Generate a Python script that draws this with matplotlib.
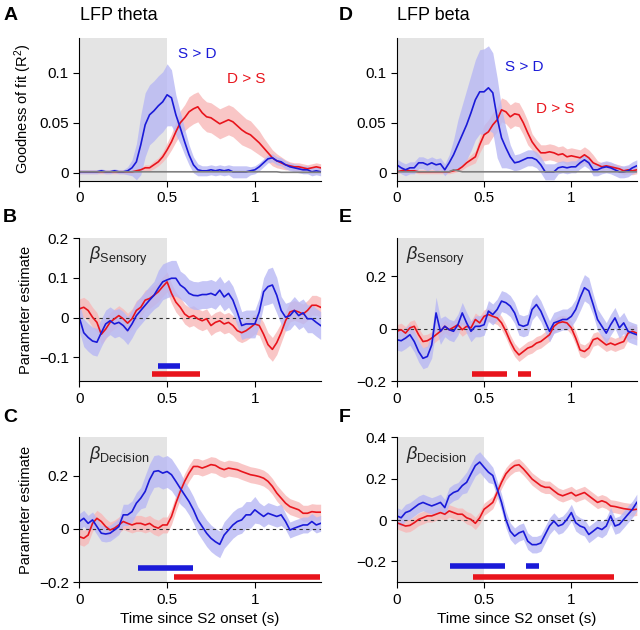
import numpy as np
import matplotlib
matplotlib.use('Agg')
import matplotlib.pyplot as plt

plt.rcParams['font.family'] = ['Liberation Sans', 'DejaVu Sans']
plt.rcParams['mathtext.fontset'] = 'custom'
plt.rcParams['mathtext.rm'] = 'Liberation Sans'
plt.rcParams['mathtext.it'] = 'Liberation Sans:italic'
plt.rcParams['axes.unicode_minus'] = True

BLUE = '#1a1ad8'
RED = '#e8141c'
BLUE_BAND = '#b8b8f4'
RED_BAND = '#f8b8b8'
SHADE = '#e4e4e4'

# time since S2 onset, 25 ms steps
t = np.round(np.arange(56) * 0.025, 3)

# A: LFP theta, goodness of fit
a_blue = [0.001, 0.001, 0.001, 0.001, 0.001, 0.002, 0.001, 0.001, 0.002, 0.001, 0.001, 0.002,
          0.005, 0.011, 0.028, 0.048, 0.058, 0.062, 0.067, 0.071, 0.078, 0.075, 0.058, 0.045,
          0.031, 0.018, 0.008, 0.003, 0.002, 0.002, 0.003, 0.002, 0.003, 0.002, 0.003, 0.001,
          0.001, 0.001, 0.001, 0.002, 0.003, 0.006, 0.010, 0.014, 0.015, 0.012, 0.011, 0.008,
          0.006, 0.005, 0.004, 0.003, 0.003, 0.001, 0.002, 0.001]
a_blue_err = ([0.002] * 11 + [0.004, 0.008, 0.018, 0.030, 0.032, 0.030, 0.030, 0.030, 0.030,
              0.031, 0.028, 0.020, 0.016, 0.013, 0.010, 0.008, 0.006] + [0.005] * 7
              + [0.006] * 4 + [0.004] * 17)
a_red = [0.001, 0.001, 0.001, 0.001, 0.001, 0.001, 0.001, 0.001, 0.001, 0.001, 0.001, 0.001,
         0.001, 0.002, 0.003, 0.005, 0.005, 0.008, 0.011, 0.016, 0.023, 0.031, 0.041, 0.050,
         0.055, 0.061, 0.064, 0.066, 0.060, 0.056, 0.055, 0.052, 0.049, 0.051, 0.053, 0.051,
         0.047, 0.043, 0.040, 0.038, 0.034, 0.030, 0.025, 0.020, 0.015, 0.012, 0.010, 0.008,
         0.007, 0.006, 0.006, 0.005, 0.004, 0.005, 0.006, 0.005]
a_red_err = ([0.002] * 15 + [0.003, 0.003, 0.004, 0.004, 0.005, 0.007, 0.008, 0.010, 0.012,
             0.013] + [0.015] * 13 + [0.014, 0.014, 0.013, 0.012, 0.010, 0.009, 0.008, 0.007,
             0.006, 0.005] + [0.004] * 8)
a_grey = [0.001] * 46 + [0.0005] * 10

# D: LFP beta, goodness of fit
d_blue = [0.008, 0.005, 0.003, 0.005, 0.005, 0.010, 0.010, 0.008, 0.010, 0.008, 0.009, 0.003,
          0.010, 0.018, 0.028, 0.038, 0.048, 0.060, 0.073, 0.081, 0.081, 0.085, 0.080, 0.055,
          0.035, 0.025, 0.016, 0.010, 0.011, 0.013, 0.015, 0.015, 0.013, 0.008, 0.001, 0.001,
          0.001, 0.005, 0.006, 0.005, 0.006, 0.006, 0.010, 0.013, 0.010, 0.003, 0.003, 0.005,
          0.006, 0.005, 0.003, 0.001, 0.001, 0.002, 0.005, 0.007]
d_blue_err = ([0.006] * 12 + [0.008, 0.015, 0.025, 0.030, 0.035, 0.038, 0.040, 0.042, 0.043,
              0.042, 0.040, 0.040, 0.030, 0.020, 0.012] + [0.008] * 10 + [0.006] * 19)
d_red = [0.001, 0.002, 0.003, 0.002, 0.002, 0.001, 0.001, 0.001, 0.001, 0.001, 0.001, 0.001,
         0.001, 0.002, 0.003, 0.006, 0.010, 0.013, 0.016, 0.028, 0.038, 0.041, 0.048, 0.053,
         0.063, 0.061, 0.056, 0.059, 0.058, 0.050, 0.040, 0.031, 0.025, 0.020, 0.020, 0.021,
         0.020, 0.018, 0.019, 0.016, 0.017, 0.016, 0.015, 0.018, 0.015, 0.010, 0.008, 0.006,
         0.007, 0.006, 0.005, 0.004, 0.002, 0.003, 0.002, 0.003]
d_red_err = ([0.002] * 15 + [0.003, 0.004, 0.005, 0.006, 0.008, 0.010] + [0.012] * 10
             + [0.008] * 15 + [0.004] * 10)
d_grey = [0.001] * 13 + [0.003, 0.002] + [0.001] * 41

# B: theta, beta sensory
b_blue = [0.000, -0.038, -0.050, -0.059, -0.062, -0.038, -0.016, -0.008, -0.016, -0.012, -0.020, -0.033,
          -0.016, 0.005, 0.018, 0.031, 0.044, 0.056, 0.074, 0.090, 0.095, 0.099, 0.099, 0.082,
          0.074, 0.061, 0.056, 0.055, 0.058, 0.058, 0.061, 0.056, 0.069, 0.052, 0.061, 0.044,
          0.014, -0.020, -0.016, -0.016, -0.016, 0.014, 0.065, 0.078, 0.082, 0.056, 0.018, 0.001,
          0.005, 0.018, 0.005, 0.012, -0.003, -0.003, -0.012, -0.020]
b_blue_err = [0.035] * 18 + [0.045] * 5 + [0.035] * 20 + [0.045] * 3 + [0.035] * 10
b_red = [0.022, 0.026, 0.018, 0.001, -0.012, -0.042, -0.029, -0.012, -0.003, 0.005, -0.003, -0.014,
         -0.003, 0.018, 0.026, 0.044, 0.048, 0.056, 0.065, 0.078, 0.090, 0.061, 0.039, 0.026,
         0.009, 0.001, 0.005, -0.003, -0.008, -0.003, -0.020, -0.012, -0.008, -0.016, -0.012, -0.020,
         -0.033, -0.038, -0.033, -0.025, -0.016, -0.020, -0.042, -0.068, -0.080, -0.063, -0.038, -0.008,
         0.014, 0.018, 0.014, 0.009, 0.018, 0.031, 0.031, 0.026]
b_red_err = [0.025] * 42 + [0.03] * 4 + [0.025] * 10
b_sig_blue = [(0.447, 0.573)]
b_sig_red = [(0.416, 0.687)]

# E: beta, beta sensory
e_blue = [-0.042, -0.046, -0.036, -0.023, -0.049, -0.087, -0.113, -0.106, -0.062, 0.060, -0.010, 0.009,
          -0.004, -0.010, 0.015, 0.060, 0.022, -0.010, 0.009, 0.009, 0.015, 0.067, 0.054, 0.073,
          0.105, 0.099, 0.086, 0.060, 0.015, 0.009, 0.015, 0.073, 0.092, 0.067, 0.028, -0.010,
          0.022, 0.028, 0.035, 0.035, 0.047, 0.073, 0.118, 0.156, 0.144, 0.092, 0.035, 0.009,
          -0.017, 0.015, 0.041, 0.003, 0.022, -0.010, -0.017, -0.023]
e_blue_err = [0.04] * 8 + [0.05, 0.06, 0.05] + [0.04] * 31 + [0.05, 0.05, 0.05] + [0.04] * 11
e_red = [-0.010, -0.004, -0.017, 0.003, 0.009, -0.023, -0.049, -0.046, -0.036, -0.023, -0.010, 0.009,
         -0.004, 0.005, 0.015, -0.004, 0.009, 0.003, 0.035, 0.022, 0.047, 0.054, 0.047, 0.041,
         0.022, -0.010, -0.049, -0.081, -0.100, -0.087, -0.074, -0.068, -0.055, -0.049, -0.036, -0.023,
         0.009, 0.022, 0.026, 0.022, 0.003, -0.036, -0.081, -0.087, -0.074, -0.042, -0.036, -0.049,
         -0.062, -0.055, -0.062, -0.055, -0.049, -0.017, -0.010, -0.017]
e_red_err = [0.025] * 56
e_sig_red = [(0.433, 0.629), (0.696, 0.766)]

# C: theta, beta decision
c_blue = [0.028, 0.040, 0.021, 0.034, 0.009, -0.016, -0.019, -0.016, -0.004, 0.009, 0.053, 0.053,
          0.065, 0.097, 0.116, 0.141, 0.185, 0.216, 0.219, 0.210, 0.216, 0.204, 0.179, 0.153,
          0.128, 0.103, 0.072, 0.034, 0.009, -0.016, -0.035, -0.048, -0.058, -0.023, -0.004, 0.015,
          0.028, 0.034, 0.053, 0.053, 0.072, 0.059, 0.047, 0.059, 0.053, 0.047, 0.053, 0.028,
          -0.004, 0.003, 0.009, 0.015, 0.015, 0.028, 0.015, 0.021]
c_blue_err = [0.03] * 10 + [0.04] * 5 + [0.06] * 9 + [0.05] * 17 + [0.04] * 6 + [0.03] * 9
c_red = [-0.029, -0.035, -0.023, 0.021, 0.040, 0.028, 0.009, -0.004, 0.003, 0.015, 0.028, 0.021,
         0.015, 0.021, 0.021, 0.015, 0.021, 0.009, 0.003, 0.015, 0.015, 0.047, 0.097, 0.141,
         0.179, 0.210, 0.235, 0.235, 0.229, 0.235, 0.242, 0.239, 0.229, 0.223, 0.229, 0.226,
         0.223, 0.216, 0.210, 0.204, 0.201, 0.197, 0.191, 0.179, 0.160, 0.135, 0.116, 0.097,
         0.084, 0.078, 0.072, 0.059, 0.059, 0.065, 0.063, 0.063]
c_red_err = [0.03] * 56
c_sig_blue = [(0.336, 0.647)]
c_sig_red = [(0.538, 1.374)]

# F: beta, beta decision
f_blue = [0.020, 0.011, 0.036, 0.044, 0.060, 0.076, 0.085, 0.076, 0.068, 0.076, 0.085, 0.060,
          0.117, 0.133, 0.141, 0.166, 0.182, 0.223, 0.263, 0.280, 0.255, 0.231, 0.215, 0.150,
          0.085, 0.003, -0.054, -0.078, -0.062, -0.054, -0.102, -0.119, -0.119, -0.111, -0.070, -0.029,
          -0.005, -0.029, -0.021, 0.003, 0.036, -0.013, -0.029, -0.037, -0.070, -0.054, -0.037, -0.046,
          -0.029, 0.020, -0.029, -0.021, 0.003, 0.028, 0.052, 0.085]
f_blue_err = [0.04] * 16 + [0.05] * 6 + [0.04] * 34
f_red = [-0.013, -0.021, -0.029, -0.026, -0.013, 0.003, 0.011, 0.020, 0.020, 0.028, 0.036, 0.028,
         0.044, 0.036, 0.028, 0.028, 0.011, 0.003, -0.016, 0.011, 0.052, 0.068, 0.085, 0.133,
         0.182, 0.223, 0.247, 0.263, 0.267, 0.247, 0.223, 0.198, 0.182, 0.166, 0.158, 0.158,
         0.141, 0.125, 0.117, 0.125, 0.133, 0.117, 0.125, 0.133, 0.117, 0.101, 0.085, 0.093,
         0.085, 0.068, 0.065, 0.060, 0.055, 0.052, 0.049, 0.052]
f_red_err = [0.03] * 56
f_sig_blue = [(0.304, 0.618), (0.738, 0.814)]
f_sig_red = [(0.437, 1.245)]


def draw_pair(ax, blue, blue_err, red, red_err):
    blue = np.array(blue)
    red = np.array(red)
    ax.fill_between(t, red - np.array(red_err), red + np.array(red_err), color=RED_BAND, lw=0, alpha=0.8)
    ax.fill_between(t, blue - np.array(blue_err), blue + np.array(blue_err), color=BLUE_BAND, lw=0, alpha=0.8)
    ax.plot(t, red, color=RED, lw=1.2)
    ax.plot(t, blue, color=BLUE, lw=1.2)


def style(ax, ylim, yticks, ylabels):
    ax.axvspan(0, 0.5, color=SHADE, zorder=0, lw=0)
    ax.set_xlim(0, 1.375)
    ax.set_ylim(*ylim)
    ax.set_xticks([0, 0.5, 1])
    ax.set_xticklabels(['0', '0.5', '1'])
    ax.set_yticks(yticks)
    ax.set_yticklabels(ylabels)
    for s in ['top', 'right']:
        ax.spines[s].set_visible(False)
    ax.tick_params(direction='out', length=4, labelsize=11)


def sig_bars(ax, spans, y, color):
    for x0, x1 in spans:
        ax.plot([x0, x1], [y, y], color=color, lw=4, solid_capstyle='butt')


fig = plt.figure(figsize=(6.4, 6.3), dpi=100)
axA = fig.add_axes([0.124, 0.713, 0.377, 0.227])
axB = fig.add_axes([0.124, 0.395, 0.377, 0.227])
axC = fig.add_axes([0.124, 0.076, 0.377, 0.230])
axD = fig.add_axes([0.620, 0.713, 0.375, 0.227])
axE = fig.add_axes([0.620, 0.395, 0.375, 0.227])
axF = fig.add_axes([0.620, 0.076, 0.375, 0.230])

# row 1: goodness of fit
for ax, bl, ble, rd, rde, gr in [(axA, a_blue, a_blue_err, a_red, a_red_err, a_grey),
                                  (axD, d_blue, d_blue_err, d_red, d_red_err, d_grey)]:
    style(ax, (-0.008, 0.135), [0, 0.05, 0.1], ['0', '0.05', '0.1'])
    draw_pair(ax, bl, ble, rd, rde)
    ax.plot(t, gr, color='#808080', lw=1.2)
axA.set_ylabel('Goodness of fit (R$^2$)', fontsize=10.5)
axA.text(0.56, 0.115, 'S > D', color=BLUE, fontsize=11)
axA.text(0.84, 0.090, 'D > S', color=RED, fontsize=11)
axD.text(0.62, 0.102, 'S > D', color=BLUE, fontsize=11)
axD.text(0.80, 0.060, 'D > S', color=RED, fontsize=11)

# row 2: beta sensory
style(axB, (-0.16, 0.2), [-0.1, 0, 0.1, 0.2], ['\u22120.1', '0', '0.1', '0.2'])
draw_pair(axB, b_blue, b_blue_err, b_red, b_red_err)
sig_bars(axB, b_sig_blue, -0.123, BLUE)
sig_bars(axB, b_sig_red, -0.143, RED)
axB.set_ylabel('Parameter estimate', fontsize=10.5)

style(axE, (-0.2, 0.345), [-0.2, 0, 0.2], ['\u22120.2', '0', '0.2'])
draw_pair(axE, e_blue, e_blue_err, e_red, e_red_err)
sig_bars(axE, e_sig_red, -0.173, RED)

# row 3: beta decision
style(axC, (-0.2, 0.345), [-0.2, 0, 0.2], ['\u22120.2', '0', '0.2'])
draw_pair(axC, c_blue, c_blue_err, c_red, c_red_err)
sig_bars(axC, c_sig_blue, -0.148, BLUE)
sig_bars(axC, c_sig_red, -0.18, RED)
axC.set_ylabel('Parameter estimate', fontsize=10.5)

style(axF, (-0.3, 0.4), [-0.2, 0, 0.2, 0.4], ['\u22120.2', '0', '0.2', '0.4'])
draw_pair(axF, f_blue, f_blue_err, f_red, f_red_err)
sig_bars(axF, f_sig_blue, -0.223, BLUE)
sig_bars(axF, f_sig_red, -0.275, RED)

for ax in [axB, axC, axE, axF]:
    ax.axhline(0, color='#333333', lw=0.8, ls=(0, (3, 3)), zorder=1)
for ax in [axC, axF]:
    ax.set_xlabel('Time since S2 onset (s)', fontsize=11)

for ax, name in [(axB, 'Sensory'), (axE, 'Sensory'), (axC, 'Decision'), (axF, 'Decision')]:
    ax.text(0.04, 0.95, r'$\mathit{\beta}_{\mathrm{%s}}$' % name, transform=ax.transAxes,
            va='top', fontsize=13, color='#222222')

# panel letters and titles
for letter, x, y in [('A', 0.005, 0.975), ('B', 0.005, 0.655), ('C', 0.005, 0.338),
                     ('D', 0.53, 0.975), ('E', 0.53, 0.655), ('F', 0.53, 0.338)]:
    fig.text(x, y, letter, fontsize=14, fontweight='bold', va='center')
fig.text(0.125, 0.975, 'LFP theta', fontsize=13, va='center')
fig.text(0.62, 0.975, 'LFP beta', fontsize=13, va='center')

fig.savefig('out.png', dpi=100)
